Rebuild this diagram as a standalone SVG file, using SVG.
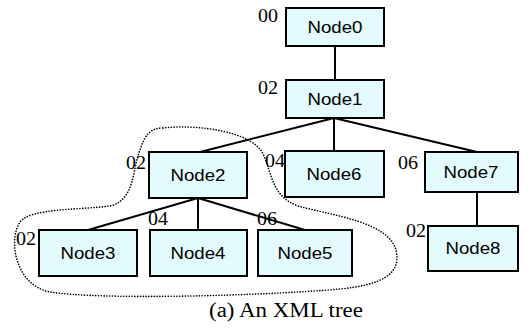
<svg xmlns="http://www.w3.org/2000/svg" width="530" height="335" viewBox="0 0 530 335">
  <style>
    .box { fill: #e4fbfd; stroke: #000; stroke-width: 2; }
    .name { font-family: "Liberation Sans", Arial, sans-serif; font-size: 16px; fill: #000; text-anchor: middle; }
    .pos { font-family: "Liberation Serif", "Times New Roman", serif; font-size: 19px; fill: #000; }
    .edge { stroke: #000; stroke-width: 2; fill: none; }
    .region { stroke: #000; stroke-width: 1.6; fill: none; stroke-dasharray: 0.1 2.7; stroke-linecap: round; }
    .caption { font-family: "Liberation Serif", "Times New Roman", serif; font-size: 20px; fill: #000; }
  </style>

  <!-- subtree region -->
  <path class="region" d="M 163,128 C 200,124 250,132 262,152 C 272,170 270,196 298,206 C 335,216 388,222 396,250 C 402,275 380,285 340,289 C 260,296 100,300 50,292 C 15,285 8,240 20,222 C 30,208 80,210 110,206 C 135,200 132,170 140,150 C 145,135 150,128 163,128 Z"/>

  <g id="connectors">
    <line class="edge" x1="335" y1="46" x2="335" y2="80"/>
    <line class="edge" x1="334" y1="118" x2="200" y2="152"/>
    <line class="edge" x1="334" y1="118" x2="334" y2="151"/>
    <line class="edge" x1="334" y1="118" x2="477" y2="152"/>
    <line class="edge" x1="198" y1="198" x2="88" y2="230"/>
    <line class="edge" x1="198" y1="198" x2="198" y2="230"/>
    <line class="edge" x1="198" y1="198" x2="305" y2="230"/>
    <line class="edge" x1="477" y1="192" x2="477" y2="226"/>
  </g>

  <g id="node0">
    <rect class="box" x="286" y="8" width="98" height="38"/>
    <text class="name" x="335" y="33" textLength="55" lengthAdjust="spacingAndGlyphs">Node0</text>
    <text class="pos" x="258" y="22" textLength="20" lengthAdjust="spacingAndGlyphs">00</text>
  </g>
  <g id="node1">
    <rect class="box" x="286" y="80" width="98" height="38"/>
    <text class="name" x="335" y="105" textLength="55" lengthAdjust="spacingAndGlyphs">Node1</text>
    <text class="pos" x="258" y="94" textLength="20" lengthAdjust="spacingAndGlyphs">02</text>
  </g>
  <g id="node2">
    <rect class="box" x="149" y="152" width="98" height="46"/>
    <text class="name" x="198" y="181" textLength="55" lengthAdjust="spacingAndGlyphs">Node2</text>
    <text class="pos" x="126" y="169" textLength="20" lengthAdjust="spacingAndGlyphs">02</text>
  </g>
  <g id="node6">
    <rect class="box" x="285" y="151" width="99" height="46"/>
    <text class="name" x="334" y="180" textLength="55" lengthAdjust="spacingAndGlyphs">Node6</text>
    <text class="pos" x="265" y="167" textLength="20" lengthAdjust="spacingAndGlyphs">04</text>
  </g>
  <g id="node7">
    <rect class="box" x="425" y="152" width="93" height="40"/>
    <text class="name" x="471" y="178" textLength="55" lengthAdjust="spacingAndGlyphs">Node7</text>
    <text class="pos" x="398" y="169" textLength="20" lengthAdjust="spacingAndGlyphs">06</text>
  </g>
  <g id="node3">
    <rect class="box" x="39" y="230" width="98" height="46"/>
    <text class="name" x="88" y="259" textLength="55" lengthAdjust="spacingAndGlyphs">Node3</text>
    <text class="pos" x="16" y="245" textLength="20" lengthAdjust="spacingAndGlyphs">02</text>
  </g>
  <g id="node4">
    <rect class="box" x="150" y="230" width="97" height="46"/>
    <text class="name" x="198" y="259" textLength="55" lengthAdjust="spacingAndGlyphs">Node4</text>
    <text class="pos" x="148" y="225" textLength="20" lengthAdjust="spacingAndGlyphs">04</text>
  </g>
  <g id="node5">
    <rect class="box" x="258" y="230" width="94" height="46"/>
    <text class="name" x="305" y="259" textLength="55" lengthAdjust="spacingAndGlyphs">Node5</text>
    <text class="pos" x="257" y="225" textLength="20" lengthAdjust="spacingAndGlyphs">06</text>
  </g>
  <g id="node8">
    <rect class="box" x="428" y="226" width="90" height="45"/>
    <text class="name" x="473" y="254" textLength="55" lengthAdjust="spacingAndGlyphs">Node8</text>
    <text class="pos" x="406" y="237" textLength="20" lengthAdjust="spacingAndGlyphs">02</text>
  </g>

  <text class="caption" x="209" y="317" textLength="154" lengthAdjust="spacingAndGlyphs">(a) An XML tree</text>
</svg>
